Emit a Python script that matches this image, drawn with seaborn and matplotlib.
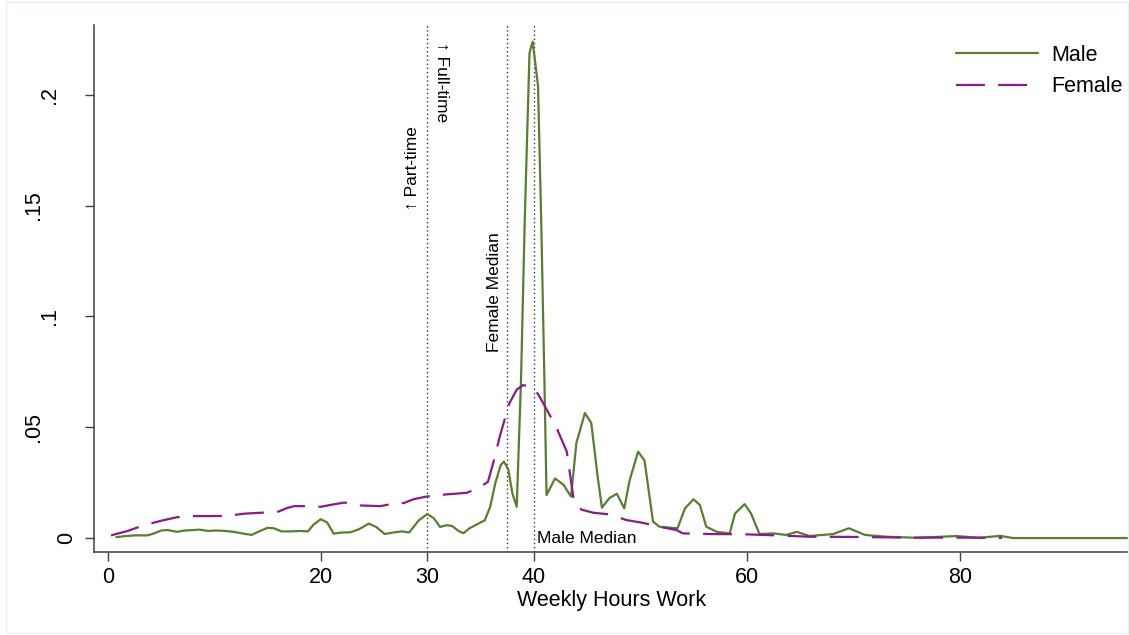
"""Kernel density of weekly hours worked, by sex."""
import pandas as pd
import matplotlib.pyplot as plt
import matplotlib.patches as mpatches
import seaborn as sns

# density values
male_hours = [0.8, 1.5, 2.5, 3.7, 4.3, 5.0, 5.6, 6.5, 7.2, 8.0, 8.6, 9.4, 10.2, 11.0,
              11.8, 12.5, 13.5, 14.2, 15.0, 15.6, 16.3, 17.2, 18.0, 18.8, 19.3, 20.0,
              20.6, 21.2, 22.0, 22.8, 23.6, 24.5, 25.2, 26.0, 26.8, 27.6, 28.3, 29.2,
              30.0, 30.6, 31.2, 31.8, 32.3, 33.0, 33.4, 34.0, 34.8, 35.4, 35.9, 36.4,
              36.9, 37.2, 37.6, 38.0, 38.4, 38.8, 39.15, 39.6, 39.9, 40.4, 40.7, 41.0,
              41.2, 42.0, 42.8, 43.5, 44.0, 44.8, 45.4, 46.0, 46.4, 47.1, 47.8, 48.5,
              49.0, 49.8, 50.4, 51.2, 51.8, 53.5, 54.2, 55.0, 55.6, 56.2, 57.2, 58.4,
              58.9, 59.8, 60.4, 61.2, 62.5, 63.7, 64.7, 65.9, 68.1, 69.6, 71.1, 73.1,
              76.0, 79.7, 81.9, 83.8, 85.0, 87.5, 95.9]
male_density = [0.0004, 0.0008, 0.0012, 0.0012, 0.0020, 0.0034, 0.0036, 0.0028, 0.0034,
                0.0036, 0.0038, 0.0032, 0.0034, 0.0032, 0.0028, 0.0022, 0.0014, 0.0030,
                0.0046, 0.0044, 0.0030, 0.0030, 0.0032, 0.0030, 0.0060, 0.0085, 0.0070,
                0.0020, 0.0025, 0.0026, 0.0040, 0.0065, 0.0050, 0.0018, 0.0025, 0.0030,
                0.0025, 0.0080, 0.0108, 0.0090, 0.0050, 0.0058, 0.0055, 0.0030, 0.0022,
                0.0045, 0.0065, 0.0080, 0.0140, 0.0250, 0.0330, 0.0345, 0.0310, 0.0200,
                0.0141, 0.0710, 0.1430, 0.2190, 0.2240, 0.2040, 0.1430, 0.0710, 0.0194,
                0.0269, 0.0240, 0.0187, 0.0428, 0.0564, 0.0519, 0.0277, 0.0137, 0.0180,
                0.0200, 0.0134, 0.0260, 0.0390, 0.0350, 0.0074, 0.0051, 0.0044, 0.0134,
                0.0175, 0.0149, 0.0051, 0.0028, 0.0021, 0.0111, 0.0153, 0.0111, 0.0018,
                0.0021, 0.0014, 0.0028, 0.0009, 0.0018, 0.0044, 0.0014, 0.0006, 0.0001,
                0.0009, 0.0001, 0.0010, 0.0000, 0.0000, 0.0000]

female_hours = [0.3, 1.8, 3.4, 5.0, 6.5, 8.1, 9.6, 11.2, 12.8, 14.3, 15.9, 16.8, 17.5,
                19.0, 20.0, 21.2, 22.2, 23.0, 23.7, 25.6, 26.9, 27.8, 28.7, 29.9, 31.8,
                33.7, 34.8, 35.7, 36.2, 36.8, 37.7, 38.4, 39.0, 39.8, 40.4, 40.9, 42.1,
                43.1, 43.8, 44.5, 45.6, 47.1, 48.7, 50.2, 51.8, 53.4, 54.0, 56.5, 59.7,
                62.8, 65.9, 70.0, 75.0, 80.0, 84.0]
female_density = [0.0012, 0.0031, 0.0058, 0.0078, 0.0094, 0.0099, 0.0099, 0.0100, 0.0110,
                  0.0114, 0.0117, 0.0135, 0.0144, 0.0144, 0.0141, 0.0152, 0.0160, 0.0155,
                  0.0147, 0.0144, 0.0156, 0.0158, 0.0175, 0.0187, 0.0197, 0.0204, 0.0225,
                  0.0254, 0.0340, 0.0457, 0.0607, 0.0670, 0.0690, 0.0683, 0.0650, 0.0607,
                  0.0502, 0.0390, 0.0156, 0.0128, 0.0114, 0.0107, 0.0081, 0.0069, 0.0051,
                  0.0036, 0.0021, 0.0018, 0.0017, 0.0012, 0.0006, 0.0005, 0.0002, 0.0002,
                  0.0001]

x_ticks = [0, 20, 30, 40, 60, 80]
y_ticks = [0, 0.05, 0.1, 0.15, 0.2]
y_tick_labels = ["0", ".05", ".1", ".15", ".2"]
part_time_cut = 30
female_median = 37.5
male_median = 40

MALE_COLOR = "#587f2f"
FEMALE_COLOR = "#8b1a89"

sns.set_style("ticks")
plt.rcParams["font.family"] = ["Liberation Sans", "DejaVu Sans"]
plt.rcParams["text.color"] = "black"
plt.rcParams["axes.labelcolor"] = "black"
plt.rcParams["xtick.color"] = "black"
plt.rcParams["ytick.color"] = "black"

fig = plt.figure(figsize=(11.29, 6.35), dpi=100)
ax = fig.add_axes([94 / 1129, 1 - 552 / 635, 1 - 94 / 1129, (552 - 25) / 635])

male = pd.DataFrame({"hours": male_hours, "density": male_density})
female = pd.DataFrame({"hours": female_hours, "density": female_density})

sns.lineplot(data=male, x="hours", y="density", ax=ax, color=MALE_COLOR,
             linewidth=1.6, label="Male")
sns.lineplot(data=female, x="hours", y="density", ax=ax, color=FEMALE_COLOR,
             linewidth=1.6, linestyle=(0, (13, 6)), label="Female")

# reference lines
for xv in [part_time_cut, female_median, male_median]:
    ax.axvline(xv, color="#333333", linestyle=(0, (1, 2)), linewidth=1.0, zorder=0)

ax.text(28.6, 0.148, "\u2191 Part-time", rotation=90, ha="center", va="bottom", fontsize=12.5)
ax.text(31.3, 0.224, "\u2191 Full-time", rotation=-90, ha="center", va="top", fontsize=12.5)
ax.text(36.3, 0.084, "Female Median", rotation=90, ha="center", va="bottom", fontsize=12.5)
ax.text(40.3, 0.0, "Male Median", ha="left", va="center", fontsize=12.5)

ax.set_xlim(-1.3, 95.9)
ax.set_ylim(-0.0063, 0.2315)
ax.set_xticks(x_ticks)
ax.set_yticks(y_ticks, labels=y_tick_labels, rotation=90, va="center", ha="center")
ax.tick_params(axis="both", labelsize=15.5, length=6.5, width=1.0, color="#404040")
ax.tick_params(axis="x", pad=4.5)
# stata offsets rotated labels by their unrotated width
for tick, pad in zip(ax.yaxis.get_major_ticks(), [13.3, 36.7, 25.2, 36.7, 25.2]):
    tick.set_pad(pad)

ax.set_xlabel("Weekly Hours Work", fontsize=15.5, labelpad=1.5)
ax.set_ylabel("")
sns.despine(ax=ax)
for side in ["left", "bottom"]:
    ax.spines[side].set_color("#404040")
    ax.spines[side].set_linewidth(1.1)

ax.legend(loc="upper right", bbox_to_anchor=(1131 / 1129, 1 - 36 / 635),
          bbox_transform=fig.transFigure, frameon=False, fontsize=15.5,
          handlelength=3.8, handletextpad=0.6, labelspacing=0.5, borderaxespad=0)

# faint graph-region outline
fig.patches.append(mpatches.Rectangle((6 / 1129, 0.003), 1 - 7 / 1129, 1 - 0.006,
                                      transform=fig.transFigure, fill=False,
                                      edgecolor="#edf1f4", linewidth=1.0))

fig.savefig("out.png", dpi=100)
plt.close()
